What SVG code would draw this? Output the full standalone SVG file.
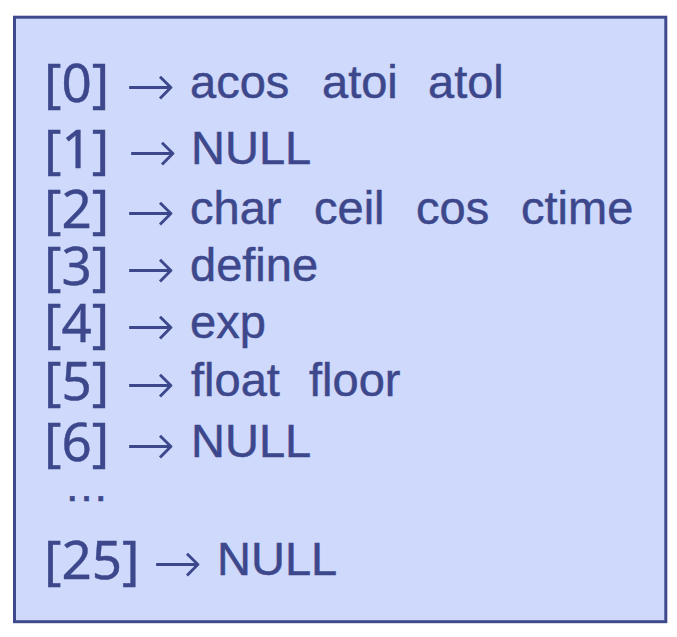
<svg xmlns="http://www.w3.org/2000/svg" width="677" height="637" viewBox="0 0 677 637">
<style>
.box{fill:#cfd9fb;stroke:#3f4a8c;stroke-width:3}
text{fill:#3d488c}
.idx{font-family:"Noto Sans","Open Sans",sans-serif;font-size:53px;stroke:#3d488c;stroke-width:0.4}
.arr{font-family:"DejaVu Sans",sans-serif;font-size:59px;font-weight:200}
.w{font-family:"Liberation Sans",Arial,sans-serif;font-size:47px;stroke:#3d488c;stroke-width:0.5}
</style>
<rect class="box" x="14.5" y="17.2" width="651.3" height="604.5"/>
<g id="row0"><text class="idx" x="44" y="102">[0]</text><text class="arr" x="126" y="106">→</text><text class="w" x="190" y="98">acos</text><text class="w" x="322" y="98">atoi</text><text class="w" x="428" y="98">atol</text></g>
<g id="row1"><text class="idx" x="44" y="168">[1]</text><text class="arr" x="128" y="172">→</text><text class="w" x="191" y="164">NULL</text></g>
<g id="row2"><text class="idx" x="44" y="228">[2]</text><text class="arr" x="126" y="232">→</text><text class="w" x="190" y="224">char</text><text class="w" x="314" y="224">ceil</text><text class="w" x="416" y="224">cos</text><text class="w" x="521" y="224">ctime</text></g>
<g id="row3"><text class="idx" x="44" y="285">[3]</text><text class="arr" x="126" y="289">→</text><text class="w" x="190" y="281">define</text></g>
<g id="row4"><text class="idx" x="44" y="342">[4]</text><text class="arr" x="126" y="346">→</text><text class="w" x="190" y="338">exp</text></g>
<g id="row5"><text class="idx" x="44" y="400">[5]</text><text class="arr" x="126" y="404">→</text><text class="w" x="191" y="396">float</text><text class="w" x="309" y="396">floor</text></g>
<g id="row6"><text class="idx" x="44" y="461">[6]</text><text class="arr" x="126" y="465">→</text><text class="w" x="191" y="457">NULL</text></g>
<g id="ellipsis"><text class="w" x="64" y="501" style="font-size:45px">…</text></g>
<g id="row25"><text class="idx" x="44" y="579">[25]</text><text class="arr" x="153" y="583">→</text><text class="w" x="217" y="575">NULL</text></g>
<g id="connectors"></g>
</svg>
